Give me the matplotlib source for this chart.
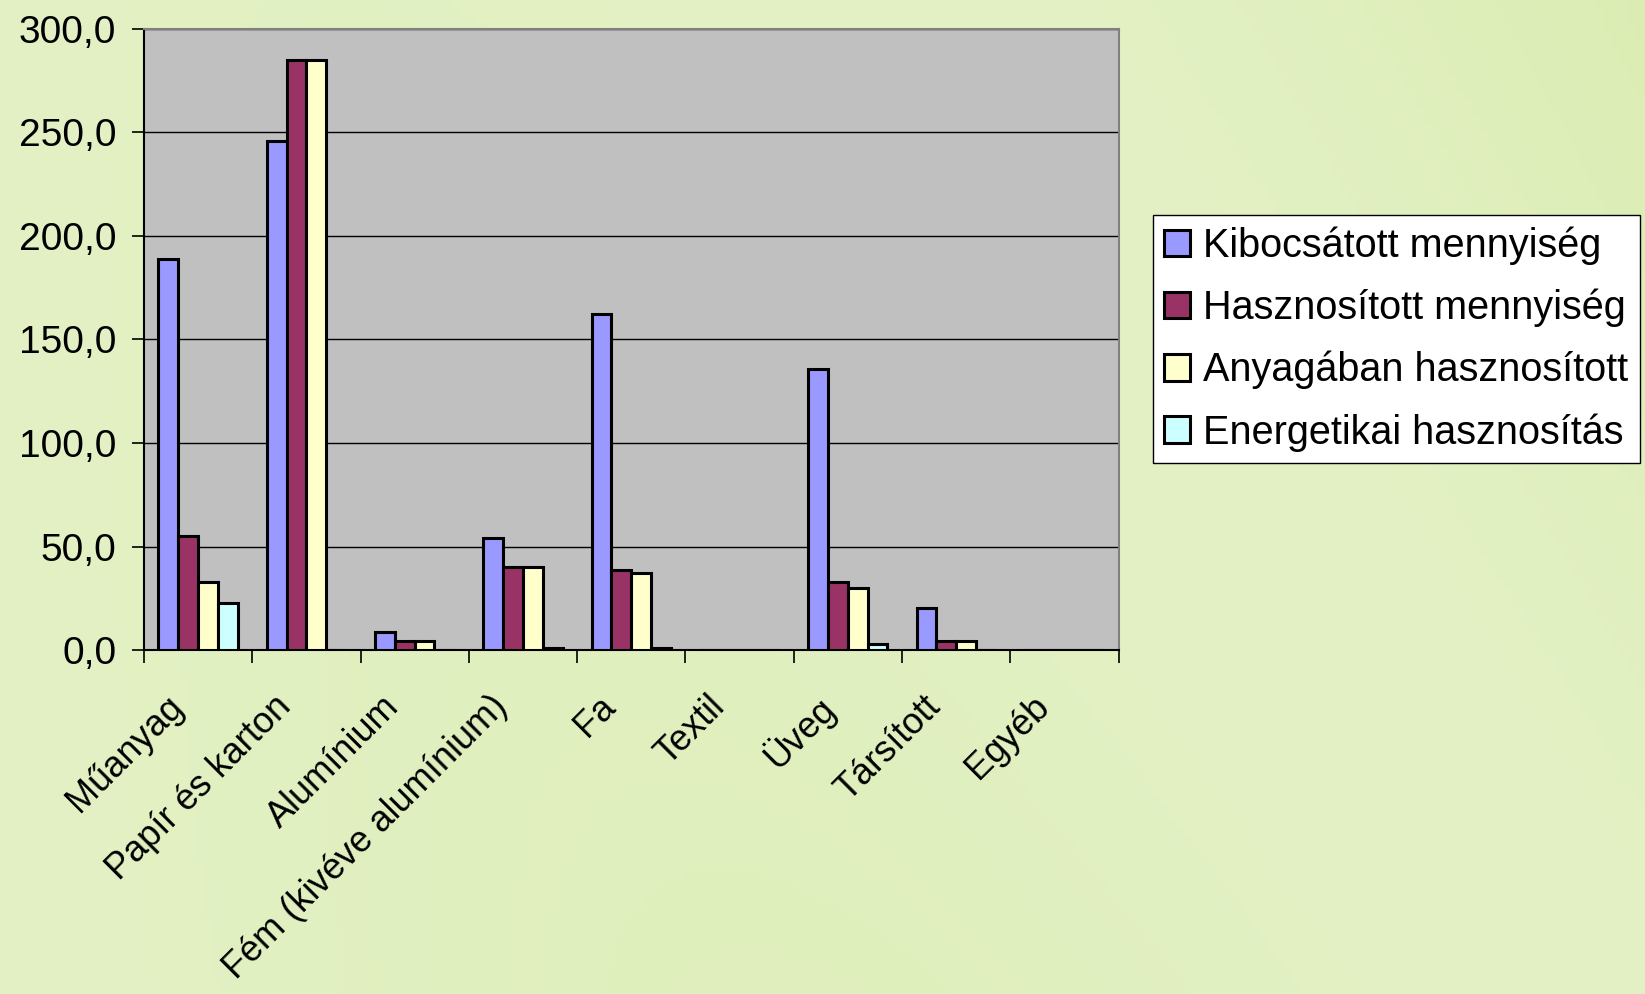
import matplotlib
matplotlib.use("Agg")
import matplotlib.pyplot as plt
import matplotlib.transforms as mtransforms
import numpy as np
from matplotlib.ticker import FixedLocator, FuncFormatter

plt.rcParams['font.family'] = ['Liberation Sans', 'DejaVu Sans']

categories = ["Műanyag", "Papír és karton", "Alumínium", "Fém (kivéve alumínium)",
              "Fa", "Textil", "Üveg", "Társított", "Egyéb"]
series_names = ["Kibocsátott mennyiség", "Hasznosított mennyiség",
                "Anyagában hasznosított", "Energetikai hasznosítás"]
kibocsatott = [189.0, 246.0, 8.5, 54.0, 162.5, 0.0, 135.5, 20.3, 0.0]
hasznositott = [55.3, 284.8, 4.5, 40.0, 38.5, 0.0, 33.0, 4.5, 0.0]
anyagaban = [33.0, 284.8, 4.5, 40.0, 37.0, 0.0, 30.0, 4.5, 0.0]
energetikai = [22.8, 0.0, 0.0, 1.0, 1.0, 0.0, 3.0, 0.0, 0.0]
colors = ["#9999FF", "#993366", "#FFFFCC", "#CCFFFF"]
y_ticks = [0, 50, 100, 150, 200, 250, 300]

fig = plt.figure(figsize=(16.45, 9.94), dpi=100)
fig.patch.set_facecolor("#E3F1C3")

# subtle background gradient
bg = fig.add_axes([0, 0, 1, 1], zorder=-10)
gx = np.linspace(0, 1, 200)
gy = np.linspace(0, 1, 120)
GX, GY = np.meshgrid(gx, gy)
base = np.array([0.890, 0.945, 0.770])
alt = np.array([0.855, 0.925, 0.690])
w = (0.5 + 0.5 * np.sin(GX * 5.0 + GY * 2.0)) * GX
img = base[None, None, :] * (1 - w[..., None]) + alt[None, None, :] * w[..., None]
bg.imshow(img, aspect='auto', extent=[0, 1, 0, 1], origin='lower')
bg.axis('off')

ax = fig.add_axes([0.0875, 0.346, 0.5925, 0.625])
ax.set_facecolor("#C0C0C0")

x = np.arange(len(categories))
bw = 0.183
data = [kibocsatott, hasznositott, anyagaban, energetikai]
for i, (vals, c, name) in enumerate(zip(data, colors, series_names)):
    ax.bar(x + (i - 1.5) * bw, vals, width=bw, color=c, edgecolor="black",
           linewidth=2.2, label=name, zorder=3)

ax.set_xlim(-0.5, len(categories) - 0.5)
ax.set_ylim(0, 300)
ax.set_yticks(y_ticks)
ax.yaxis.set_major_formatter(FuncFormatter(lambda v, p: f"{v:.1f}".replace(".", ",")))
ax.yaxis.grid(True, color="black", linewidth=1.0, zorder=1)
ax.set_axisbelow(True)

ax.xaxis.set_major_locator(FixedLocator(np.arange(-0.5, len(categories), 1.0)))
ax.xaxis.set_major_formatter(FuncFormatter(lambda v, p: ""))
ax.xaxis.set_minor_locator(FixedLocator(x))
ax.set_xticklabels(categories, minor=True, rotation=45, ha="right",
                   rotation_mode="anchor", fontsize=26)
ax.tick_params(axis="x", which="minor", length=0, pad=28)
ax.tick_params(axis="x", which="major", length=9, width=1.2, direction="out")
ax.tick_params(axis="y", length=9, width=1.2, direction="out", labelsize=28, pad=11)

shift = mtransforms.ScaledTranslation(-0.33, 0, fig.dpi_scale_trans)
for lbl in ax.get_xticklabels(minor=True):
    lbl.set_transform(lbl.get_transform() + shift)

for s in ["top", "right"]:
    ax.spines[s].set_color("#808080")
    ax.spines[s].set_linewidth(1.5)
for s in ["left", "bottom"]:
    ax.spines[s].set_color("black")
    ax.spines[s].set_linewidth(1.5)

leg = ax.legend(loc="upper left", bbox_to_anchor=(1.035, 0.70), fontsize=28.5,
                frameon=True, fancybox=False, edgecolor="black", framealpha=1,
                handlelength=0.65, handleheight=0.65, handletextpad=0.35,
                labelspacing=0.6, borderpad=0.28, borderaxespad=0)
leg.get_frame().set_linewidth(1.0)

fig.savefig("out.png", dpi=100, facecolor=fig.get_facecolor())
